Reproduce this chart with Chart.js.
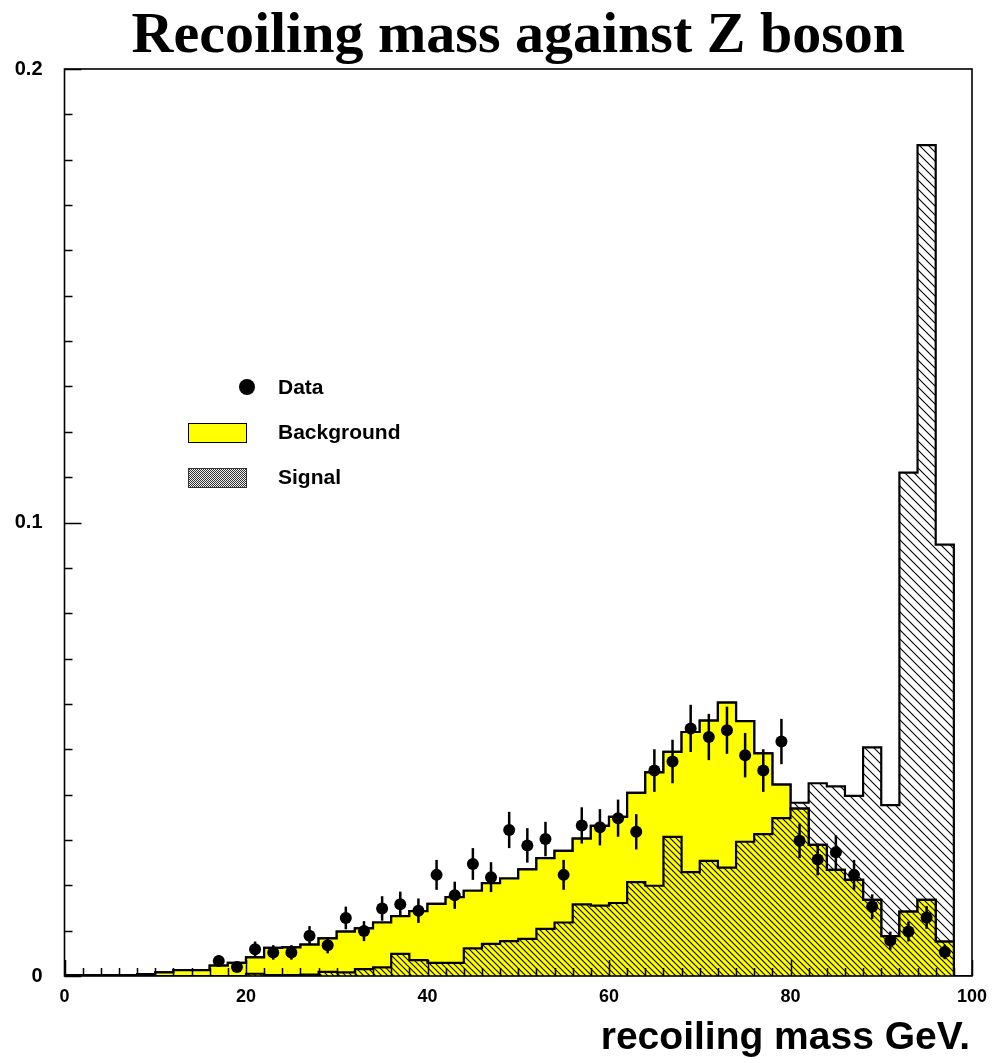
<!DOCTYPE html>
<html>
<head>
<meta charset="utf-8">
<title>Recoiling mass against Z boson</title>
<script src="https://cdn.jsdelivr.net/npm/chart.js@4.4.1/dist/chart.umd.min.js"></script>
<style>
  html, body { margin: 0; padding: 0; background: #fff; }
  #wrap { width: 993px; height: 1063px; }
</style>
</head>
<body>
<div id="wrap"><canvas id="plot" width="993" height="1063"></canvas></div>
<script>
// histogram bin edges (GeV), 2 GeV bins
const binEdges = [
  0, 2, 4, 6, 8, 10, 12, 14, 16, 18, 20, 22, 24, 26, 28, 30, 32, 34, 36, 38,
  40, 42, 44, 46, 48, 50, 52, 54, 56, 58, 60, 62, 64, 66, 68, 70, 72, 74, 76, 78,
  80, 82, 84, 86, 88, 90, 92, 94, 96, 98, 100
];

// total expected background per bin
const bkgTotal = [
  0.0002, 0.0002, 0.0002, 0.0002, 0.0004, 0.0008, 0.0013, 0.0013, 0.0023, 0.0029,
  0.0041, 0.0062, 0.0063, 0.0069, 0.0083, 0.0098, 0.0105, 0.0118, 0.0132, 0.0143,
  0.0159, 0.0174, 0.0188, 0.0205, 0.0215, 0.0235, 0.0260, 0.0276, 0.0303, 0.0331,
  0.0351, 0.0404, 0.0449, 0.0494, 0.0538, 0.0563, 0.0603, 0.0562, 0.0491, 0.0422,
  0.0369, 0.0289, 0.0234, 0.0212, 0.0168, 0.0088, 0.0142, 0.0168, 0.0076, 0
];

// hatched part of the background
const bkgHatched = [
  0, 0, 0, 0, 0, 0, 0, 0, 0, 0,
  0.0005, 0.0002, 0.0002, 0.0003, 0.0009, 0.0008, 0.0015, 0.0019, 0.0049, 0.0035,
  0.0029, 0.0029, 0.0061, 0.0071, 0.0077, 0.0082, 0.0104, 0.0118, 0.0158, 0.0155,
  0.0161, 0.0207, 0.0199, 0.0307, 0.0229, 0.0254, 0.0239, 0.0296, 0.0313, 0.0348,
  0.0369, 0.0289, 0.0234, 0.0212, 0.0168, 0.0088, 0.0142, 0.0168, 0.0076, 0
];

// signal, stacked on top of the background
const signal = [
  0, 0, 0, 0, 0, 0, 0, 0, 0, 0,
  0, 0, 0, 0, 0, 0, 0, 0, 0, 0,
  0, 0, 0, 0, 0, 0, 0, 0, 0, 0,
  0, 0, 0, 0, 0, 0, 0, 0, 0, 0,
  0.0013, 0.0136, 0.0184, 0.0185, 0.0336, 0.0289, 0.0968, 0.1664, 0.0875, 0
];

// data points (bin centres), values and errors
const dataX = [
  17, 19, 21, 23, 25, 27, 29, 31, 33, 35, 37, 39, 41, 43, 45, 47, 49, 51, 53, 55, 57,
  59, 61, 63, 65, 67, 69, 71, 73, 75, 77, 79, 81, 83, 85, 87, 89, 91, 93, 95, 97
];
const dataY = [
  0.0033, 0.0020, 0.0059, 0.0052, 0.0052, 0.0089, 0.0068, 0.0128, 0.0099, 0.0149, 0.0158,
  0.0144, 0.0223, 0.0178, 0.0247, 0.0218, 0.0322, 0.0288, 0.0302, 0.0223, 0.0332,
  0.0328, 0.0348, 0.0318, 0.0453, 0.0473, 0.0546, 0.0527, 0.0542, 0.0487, 0.0453,
  0.0517, 0.0298, 0.0257, 0.0273, 0.0223, 0.0153, 0.0078, 0.0098, 0.0129, 0.0053
];
const dataErr = [
  0.0013, 0.0010, 0.0017, 0.0016, 0.0016, 0.0021, 0.0018, 0.0025, 0.0022, 0.0027, 0.0028,
  0.0027, 0.0033, 0.0030, 0.0035, 0.0033, 0.0040, 0.0038, 0.0038, 0.0033, 0.0040,
  0.0040, 0.0041, 0.0039, 0.0047, 0.0048, 0.0052, 0.0051, 0.0052, 0.0049, 0.0047,
  0.0050, 0.0038, 0.0035, 0.0037, 0.0033, 0.0027, 0.0020, 0.0022, 0.0025, 0.0016
];

const xTickLabels = [0, 20, 40, 60, 80, 100];
const yTickLabels = [0, 0.1, 0.2];

const SANS = '"Liberation Sans", Arial, Helvetica, sans-serif';
const SERIF = '"Liberation Serif", "Times New Roman", serif';

function hatch(bg, size, lw) {
  const c = document.createElement('canvas');
  c.width = size; c.height = size;
  const g = c.getContext('2d');
  g.fillStyle = bg;
  g.fillRect(0, 0, size, size);
  g.strokeStyle = '#000';
  g.lineWidth = lw;
  g.beginPath();
  g.moveTo(-1, -1); g.lineTo(size + 1, size + 1);
  g.moveTo(size - 1, -1); g.lineTo(size + 1, 1);
  g.moveTo(-1, size - 1); g.lineTo(1, size + 1);
  g.stroke();
  return g.createPattern(c, 'repeat');
}

function stipple() {
  const c = document.createElement('canvas');
  c.width = 2; c.height = 2;
  const g = c.getContext('2d');
  g.fillStyle = '#eee';
  g.fillRect(0, 0, 2, 2);
  g.fillStyle = '#333';
  g.fillRect(0, 0, 1, 1);
  g.fillRect(1, 1, 1, 1);
  return g.createPattern(c, 'repeat');
}

// step outline: (edge, value) pairs closed down to zero at both ends
function histPoints(values) {
  const pts = [{ x: binEdges[0], y: 0 }];
  values.forEach((v, i) => pts.push({ x: binEdges[i], y: v }));
  pts.push({ x: binEdges[values.length], y: 0 });
  return pts;
}

const sigPlusBkg = bkgTotal.map((v, i) => v + signal[i]);
const yellowHatch = hatch('#ffff00', 6, 1.1);
const whiteHatch = hatch('#ffffff', 9, 1.1);

const histStyle = {
  type: 'line',
  stepped: 'before',   // horizontal at the bin value, then vertical at the next edge
  fill: 'origin',
  borderColor: '#000',
  borderWidth: 2.2,
  pointRadius: 0,
  pointHoverRadius: 0,
  tension: 0
};

// error bars, inner ticks, frame, title and legend
const decorations = {
  id: 'decorations',
  afterDatasetsDraw(chart) {
    const ctx = chart.ctx;
    const xs = chart.scales.x, ys = chart.scales.y;
    const area = chart.chartArea;
    ctx.save();

    ctx.strokeStyle = '#000';
    ctx.lineWidth = 2.5;
    dataX.forEach((x, i) => {
      const px = xs.getPixelForValue(x);
      ctx.beginPath();
      ctx.moveTo(px, ys.getPixelForValue(dataY[i] - dataErr[i]));
      ctx.lineTo(px, ys.getPixelForValue(dataY[i] + dataErr[i]));
      ctx.stroke();
    });

    ctx.lineWidth = 1.6;
    ctx.strokeRect(area.left, area.top, area.right - area.left, area.bottom - area.top);

    ctx.lineWidth = 1.5;
    ctx.beginPath();
    for (let k = 0; k <= 20; k++) {
      const py = Math.round(ys.getPixelForValue(k * 0.01)) + 0.5;
      const len = (k % 10 === 0) ? 17 : 8;
      ctx.moveTo(area.left, py);
      ctx.lineTo(area.left + len, py);
    }
    for (let k = 0; k <= 50; k++) {
      const px = Math.round(xs.getPixelForValue(k * 2)) + 0.5;
      const len = (k % 10 === 0) ? 16 : 8;
      ctx.moveTo(px, area.bottom);
      ctx.lineTo(px, area.bottom - len);
    }
    ctx.stroke();
    ctx.restore();
  },
  afterDraw(chart) {
    const ctx = chart.ctx;
    const area = chart.chartArea;
    ctx.save();
    ctx.fillStyle = '#000';

    ctx.font = 'bold 58px ' + SERIF;
    ctx.textAlign = 'center';
    ctx.textBaseline = 'alphabetic';
    ctx.fillText('Recoiling mass against Z boson', (area.left + area.right) / 2, 52);

    ctx.font = 'bold 39px ' + SANS;
    ctx.textAlign = 'right';
    ctx.textBaseline = 'middle';
    ctx.fillText('recoiling mass GeV.', 970, 1038);

    // legend
    ctx.beginPath();
    ctx.arc(247, 387, 8, 0, Math.PI * 2);
    ctx.fill();

    ctx.fillStyle = '#ffff00';
    ctx.fillRect(188.5, 423, 58, 19);
    ctx.strokeStyle = '#000';
    ctx.lineWidth = 1;
    ctx.strokeRect(188.5, 423.5, 58, 19);

    ctx.fillStyle = stipple();
    ctx.fillRect(188.5, 468, 58, 19);
    ctx.strokeStyle = '#333';
    ctx.strokeRect(188.5, 468.5, 58, 19);

    ctx.fillStyle = '#000';
    ctx.font = 'bold 21px ' + SANS;
    ctx.textAlign = 'left';
    ctx.textBaseline = 'middle';
    ctx.fillText('Data', 278, 388);
    ctx.fillText('Background', 278, 433);
    ctx.fillText('Signal', 278, 478);
    ctx.restore();
  }
};

new Chart(document.getElementById('plot'), {
  type: 'line',
  data: {
    datasets: [
      {
        label: 'Data',
        data: dataX.map((x, i) => ({ x: x, y: dataY[i] })),
        showLine: false,
        pointRadius: 6,
        pointHoverRadius: 6,
        pointBackgroundColor: '#000',
        pointBorderColor: '#000',
        pointBorderWidth: 0,
        order: 0
      },
      Object.assign({}, histStyle, {
        label: 'Background (hatched part)',
        data: histPoints(bkgHatched),
        backgroundColor: yellowHatch,
        order: 1
      }),
      Object.assign({}, histStyle, {
        label: 'Background',
        data: histPoints(bkgTotal),
        backgroundColor: '#ffff00',
        order: 2
      }),
      Object.assign({}, histStyle, {
        label: 'Signal',
        data: histPoints(sigPlusBkg),
        backgroundColor: whiteHatch,
        order: 3
      })
    ]
  },
  options: {
    responsive: false,
    animation: false,
    devicePixelRatio: 1,
    layout: { padding: { top: 69, right: 21, left: 0, bottom: 0 } },
    plugins: {
      legend: { display: false },
      title: { display: false },
      tooltip: { enabled: false }
    },
    events: [],
    scales: {
      x: {
        type: 'linear',
        min: 0,
        max: 100,
        afterFit(scale) {
          scale.height = 87;
          scale.paddingLeft = 0;
          scale.paddingRight = 0;
        },
        afterBuildTicks(scale) { scale.ticks = xTickLabels.map(v => ({ value: v })); },
        grid: { display: false, drawTicks: false },
        border: { display: false },
        ticks: {
          padding: 10,
          color: '#000',
          maxRotation: 0,
          font: { family: SANS, size: 18, weight: 'bold' },
          callback: v => String(v)
        }
      },
      y: {
        type: 'linear',
        min: 0,
        max: 0.2,
        afterFit(scale) {
          scale.width = 64.5;
          scale.paddingTop = 0;
          scale.paddingBottom = 0;
        },
        afterBuildTicks(scale) { scale.ticks = yTickLabels.map(v => ({ value: v })); },
        grid: { display: false, drawTicks: false },
        border: { display: false },
        ticks: {
          padding: 22,
          color: '#000',
          font: { family: SANS, size: 20, weight: 'bold' },
          callback: v => (v === 0 ? '0' : v.toFixed(1))
        }
      }
    }
  },
  plugins: [decorations]
});
</script>
</body>
</html>
